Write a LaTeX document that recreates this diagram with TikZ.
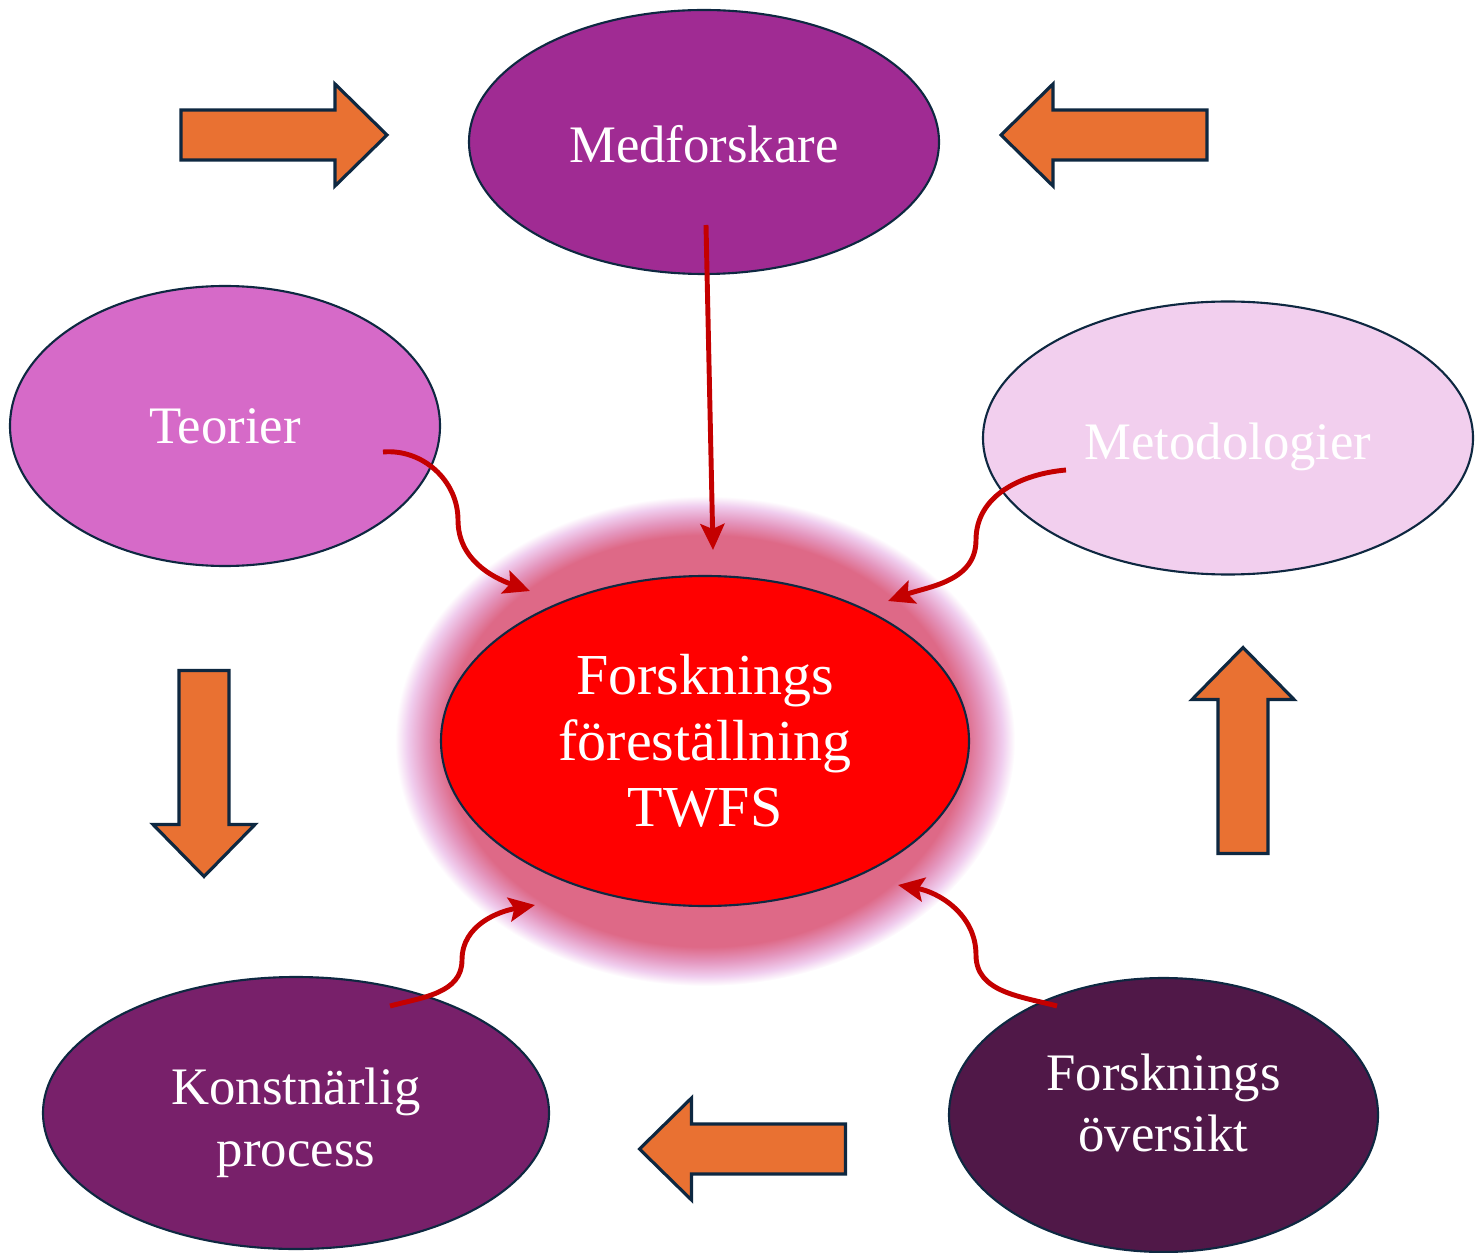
\documentclass[tikz,border=0pt]{standalone}
\usepackage{fontspec}
\setmainfont{Liberation Serif}
\usetikzlibrary{arrows.meta,shapes.geometric,positioning}
\definecolor{navy}{RGB}{14,40,65}
\definecolor{blockorange}{RGB}{233,113,50}
\definecolor{linkred}{RGB}{196,0,0}
\definecolor{medcol}{RGB}{160,43,147}
\definecolor{teocol}{RGB}{214,106,200}
\definecolor{metcol}{RGB}{242,207,238}
\definecolor{konstcol}{RGB}{120,32,106}
\definecolor{overcol}{RGB}{80,24,72}
\definecolor{glowpink}{RGB}{222,105,135}
\definecolor{glowmid}{RGB}{228,150,190}
\definecolor{glowlilac}{RGB}{240,205,238}
\pgfdeclareradialshading{glowshade}{\pgfpoint{0bp}{0bp}}{color(0bp)=(glowpink); color(20bp)=(glowpink); color(21bp)=(glowpink); color(22.5bp)=(glowmid); color(24bp)=(glowlilac); color(25bp)=(white); color(50bp)=(white)}

\begin{document}
\begin{tikzpicture}[x=1cm,y=1cm]
\tikzset{
  idea/.style={ellipse,draw=navy,line width=0.6pt,inner sep=0pt},
  ideatext/.style={text=white,align=center,inner sep=0pt,font=\fontsize{15}{17.6}\selectfont},
  link/.style={-{Stealth[length=2.6mm,width=2.4mm,inset=0.5mm]},draw=linkred,line width=1.4pt},
  arrowbody/.style={fill=blockorange,draw=navy,line width=0.9pt,line join=miter},
  blockarrow/.pic={\draw[arrowbody] (-1.03,-0.25) -- (0.51,-0.25) -- (0.51,-0.51) -- (1.03,0) -- (0.51,0.51) -- (0.51,0.25) -- (-1.03,0.25) -- cycle;}
}
\useasboundingbox (0,0) rectangle (14.78,12.52);
\shade[shading=glowshade] (7.05,5.11) ellipse [x radius=3.1,y radius=2.45];
\node[idea,fill=medcol,minimum width=4.70cm,minimum height=2.64cm] (n_med) at (7.04,11.10) {};
\node[idea,fill=teocol,minimum width=4.30cm,minimum height=2.80cm] (n_teo) at (2.25,8.26) {};
\node[idea,fill=metcol,minimum width=4.90cm,minimum height=2.73cm] (n_met) at (12.28,8.14) {};
\node[idea,fill=red,minimum width=5.28cm,minimum height=3.30cm] (n_twfs) at (7.05,5.11) {};
\node[idea,fill=konstcol,minimum width=5.06cm,minimum height=2.72cm] (n_konst) at (2.96,1.39) {};
\node[idea,fill=overcol,minimum width=4.29cm,minimum height=2.74cm] (n_over) at (11.635,1.37) {};
\node[ideatext] (t_med) at ([yshift=-0.02cm]n_med.center) {Medforskare};
\node[ideatext] (t_teo) at (n_teo.center) {Teorier};
\node[ideatext] (t_met) at ([yshift=-0.09cm]n_met.center) {Metodologier};
\node[ideatext,font=\fontsize{16.5}{18.8}\selectfont] (t_twfs) at (n_twfs.center) {Forsknings\\föreställning\\TWFS};
\node[ideatext] (t_konst) at ([yshift=-0.10cm]n_konst.center) {Konstnärlig\\process};
\node[ideatext] (t_over) at ([yshift=0.12cm]n_over.center) {Forsknings\\översikt};
\pic at (2.84,11.17) {blockarrow};
\pic[rotate=180] at (11.04,11.17) {blockarrow};
\pic[rotate=-90] at (2.04,4.785) {blockarrow};
\pic[rotate=90] at (12.43,5.015) {blockarrow};
\pic[rotate=180] at (7.425,1.03) {blockarrow};
\coordinate (c_med_a) at (7.06,10.27);
\coordinate (c_med_b) at (7.13,7.02);
\coordinate (c_teo_a) at (3.83,8.00);
\coordinate (c_teo_m) at (4.58,7.32);
\coordinate (c_teo_b) at (5.30,6.61);
\coordinate (c_met_a) at (10.66,7.82);
\coordinate (c_met_m) at (9.76,7.12);
\coordinate (c_met_b) at (8.88,6.51);
\coordinate (c_konst_a) at (3.90,2.46);
\coordinate (c_konst_m) at (4.62,2.92);
\coordinate (c_konst_b) at (5.35,3.47);
\coordinate (c_over_a) at (10.57,2.46);
\coordinate (c_over_m) at (9.76,2.97);
\coordinate (c_over_b) at (8.98,3.67);
\draw[link] (c_med_a) -- (c_med_b);
\draw[link] (c_teo_a) to[out=5,in=90] (c_teo_m) to[out=-90,in=160] (c_teo_b);
\draw[link] (c_met_a) to[out=185,in=90] (c_met_m) to[out=-90,in=20] (c_met_b);
\draw[link] (c_konst_a) to[out=15,in=-90] (c_konst_m) to[out=90,in=190] (c_konst_b);
\draw[link] (c_over_a) to[out=165,in=-90] (c_over_m) to[out=90,in=-10] (c_over_b);
\end{tikzpicture}
\end{document}
